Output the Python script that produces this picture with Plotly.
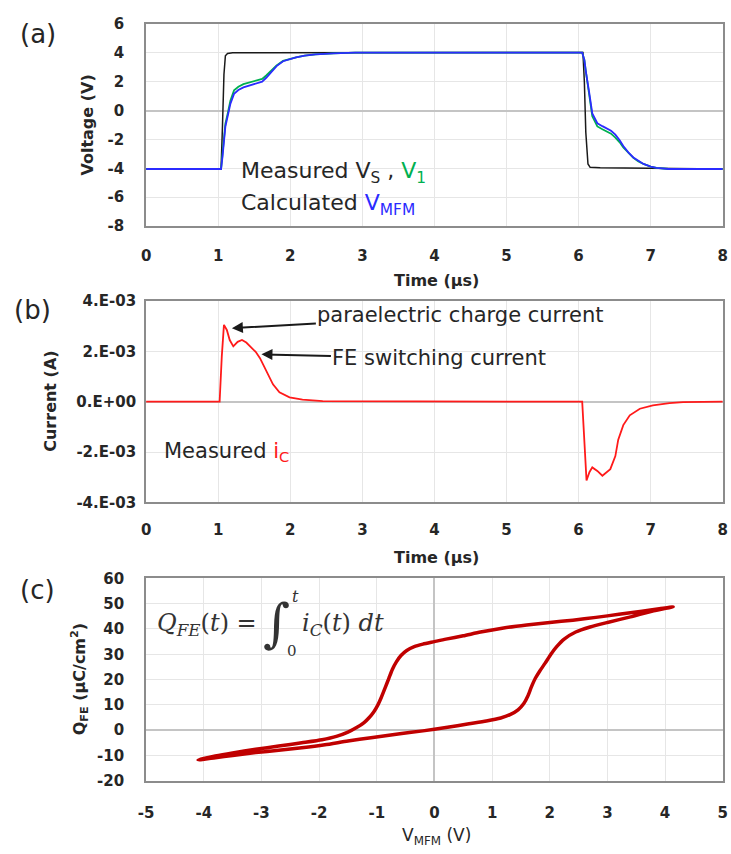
import plotly.graph_objects as go

W, H = 731, 854

# ---------------- data ----------------
# (a) voltages vs time (µs)
t_vs = [0, 1.04, 1.06, 1.08, 1.10, 1.13, 1.20, 3.0, 6.06, 6.08, 6.10, 6.13, 6.16, 6.30, 7.0, 8]
v_s = [-4.05, -4.05, -1.0, 2.5, 3.8, 3.95, 4.0, 4.02, 4.02, 2.0, -1.5, -3.7, -3.93, -3.97, -4.0, -4.05]

t_v = [0, 1.04, 1.06, 1.08, 1.10, 1.13, 1.17, 1.22, 1.28, 1.35, 1.45, 1.54, 1.61, 1.67, 1.74,
       1.81, 1.90, 2.0, 2.08, 2.2, 2.35, 2.6, 2.9, 6.05, 6.08, 6.10, 6.13, 6.15, 6.19, 6.26,
       6.33, 6.39, 6.45, 6.51, 6.57, 6.62, 6.69, 6.76, 6.83, 6.90, 7.0, 7.08, 7.25, 8]
v_mfm = [-4.05, -4.05, -3.2, -1.8, -1.1, -0.43, 0.48, 1.16, 1.42, 1.61, 1.76, 1.86, 2.0, 2.29, 2.7,
         3.08, 3.42, 3.6, 3.69, 3.8, 3.9, 3.97, 4.02, 4.02, 3.5, 2.74, 1.9, 1.16, -0.2, -0.88,
         -1.08, -1.22, -1.4, -1.67, -2.05, -2.46, -2.9, -3.25, -3.5, -3.7, -3.88, -3.97, -4.05, -4.05]
v_1 = [-4.05, -4.05, -3.0, -1.6, -0.9, -0.25, 0.7, 1.4, 1.65, 1.83, 1.98, 2.08, 2.2, 2.45, 2.8,
       3.12, 3.44, 3.6, 3.69, 3.8, 3.9, 3.97, 4.02, 4.02, 3.5, 2.74, 1.85, 1.0, -0.4, -1.1,
       -1.3, -1.45, -1.6, -1.87, -2.2, -2.56, -2.95, -3.28, -3.52, -3.7, -3.88, -3.97, -4.05, -4.05]

# (b) measured current (A) vs time (µs)
t_i = [0, 1.02, 1.05, 1.08, 1.12, 1.16, 1.21, 1.27, 1.33, 1.39, 1.45, 1.52, 1.58, 1.67, 1.76,
       1.85, 1.99, 2.17, 2.45, 6.05, 6.08, 6.11, 6.15, 6.19, 6.26, 6.33, 6.44, 6.51, 6.55, 6.62,
       6.71, 6.85, 7.03, 7.26, 7.45, 8]
i_c = [0, 0, 1.8e-3, 3.05e-3, 2.85e-3, 2.45e-3, 2.2e-3, 2.38e-3, 2.45e-3, 2.35e-3, 2.18e-3,
       1.98e-3, 1.73e-3, 1.21e-3, 0.69e-3, 0.37e-3, 0.17e-3, 0.08e-3, 0.02e-3, 0, -1.5e-3,
       -3.13e-3, -2.8e-3, -2.61e-3, -2.75e-3, -2.94e-3, -2.68e-3, -2.16e-3, -1.51e-3, -0.93e-3,
       -0.54e-3, -0.28e-3, -0.15e-3, -0.06e-3, -0.02e-3, 0]

# (c) hysteresis loop Q_FE (µC/cm²) vs V_MFM (V): upper branch (V falling) then lower branch
v_loop = [4.14, 3.9, 3.6, 3.2, 2.8, 2.4, 2.0, 1.6, 1.2, 0.8, 0.5, 0.2, 0.0, -0.2, -0.35, -0.48,
          -0.58, -0.66, -0.73, -0.79, -0.85, -0.92, -0.98, -1.05, -1.13, -1.22, -1.35, -1.5,
          -1.7, -1.95, -2.3, -2.7, -3.1, -3.5, -3.8, -4.0, -4.1,
          -3.8, -3.5, -3.1, -2.7, -2.3, -1.9, -1.5, -1.1, -0.6, -0.2, 0.2, 0.6, 0.9, 1.15, 1.32,
          1.45, 1.55, 1.62, 1.68, 1.75, 1.83, 1.92, 2.02, 2.12, 2.25, 2.45, 2.7, 3.0, 3.4, 3.8,
          4.14]
q_loop = [48.8, 48.0, 47.0, 45.8, 44.6, 43.5, 42.6, 41.6, 40.4, 38.8, 37.3, 36.0, 35.0, 34.0,
          33.0, 31.5, 29.5, 27.0, 24.0, 20.5, 17.0, 13.0, 10.0, 7.3, 5.0, 3.0, 1.0, -0.8, -2.5,
          -3.8, -5.0, -6.3, -7.6, -9.0, -10.2, -11.2, -11.8,
          -10.9, -10.0, -8.9, -8.0, -7.0, -5.8, -4.3, -3.0, -1.4, -0.3, 1.0, 2.5, 3.6, 4.8, 6.2,
          8.0, 10.5, 13.5, 17.0, 20.5, 23.5, 26.5, 30.0, 33.0, 36.0, 38.8, 40.8, 42.6, 44.8, 47.2,
          48.8]

# tick labels
time_ticks = [0, 1, 2, 3, 4, 5, 6, 7, 8]
time_labels = ["0", "1", "2", "3", "4", "5", "6", "7", "8"]
volt_ticks = [-8, -6, -4, -2, 0, 2, 4, 6]
volt_labels = ["-8", "-6", "-4", "-2", "0", "2", "4", "6"]
cur_ticks = [-4e-3, -2e-3, 0, 2e-3, 4e-3]
cur_labels = ["-4.E-03", "-2.E-03", "0.E+00", "2.E-03", "4.E-03"]
vmfm_ticks = [-5, -4, -3, -2, -1, 0, 1, 2, 3, 4, 5]
vmfm_labels = ["-5", "-4", "-3", "-2", "-1", "0", "1", "2", "3", "4", "5"]
q_ticks = [-20, -10, 0, 10, 20, 30, 40, 50, 60]
q_labels = ["-20", "-10", "0", "10", "20", "30", "40", "50", "60"]

# ---------------- layout helpers ----------------
def px(p):
    return p / W

def py(p):
    return 1 - p / H

XD = [px(140.6), px(727.7)]
DOM_A = [py(221.7), py(15.3)]
DOM_B = [py(504.0), py(298.3)]
DOM_C = [py(788.3), py(581.7)]

FONT = "DejaVu Sans"
TXT = "#262626"
tickfont = dict(family=FONT, size=15, color=TXT, weight="bold")

def axis(**kw):
    base = dict(showline=True, linecolor="#8c8c8c", linewidth=2, mirror=True,
                showgrid=True, gridcolor="#e6e6e6", gridwidth=1, ticks="",
                tickfont=tickfont, zeroline=False, fixedrange=True,
                ticklabeloverflow="allow", tickmode="array")
    base.update(kw)
    return base

fig = go.Figure()
fig.add_trace(go.Scatter(x=t_vs, y=v_s, mode="lines", line=dict(color="#1a1a1a", width=1.5),
                         xaxis="x", yaxis="y", name="Measured V_S"))
fig.add_trace(go.Scatter(x=t_v, y=v_1, mode="lines", line=dict(color="#00b050", width=1.8),
                         xaxis="x", yaxis="y", name="Measured V_1"))
fig.add_trace(go.Scatter(x=t_v, y=v_mfm, mode="lines", line=dict(color="#2b2bff", width=1.8),
                         xaxis="x", yaxis="y", name="Calculated V_MFM"))
fig.add_trace(go.Scatter(x=t_i, y=i_c, mode="lines", line=dict(color="#ff1a1a", width=1.8),
                         xaxis="x2", yaxis="y2", name="Measured i_C"))
fig.add_trace(go.Scatter(x=v_loop, y=q_loop, mode="lines",
                         line=dict(color="#c00000", width=3.5, shape="spline", smoothing=0.6),
                         xaxis="x3", yaxis="y3", name="Q_FE"))

fig.update_layout(
    width=W, height=H, margin=dict(l=0, r=0, t=0, b=0),
    paper_bgcolor="white", plot_bgcolor="white", showlegend=False,
    xaxis=axis(domain=XD, anchor="y", range=[0, 8], tickvals=time_ticks, ticktext=time_labels,
               ticklabelstandoff=15),
    yaxis=axis(domain=DOM_A, anchor="x", range=[-8, 6], tickvals=volt_ticks, ticktext=volt_labels,
               zeroline=True, zerolinecolor="#c4c4c4", zerolinewidth=1.5, ticklabelstandoff=17),
    xaxis2=axis(domain=XD, anchor="y2", range=[0, 8], tickvals=time_ticks, ticktext=time_labels,
                ticklabelstandoff=13),
    yaxis2=axis(domain=DOM_B, anchor="x2", range=[-4e-3, 4e-3], tickvals=cur_ticks,
                ticktext=cur_labels, zeroline=True, zerolinecolor="#c4c4c4", zerolinewidth=1.5,
                ticklabelstandoff=5),
    xaxis3=axis(domain=XD, anchor="y3", range=[-5, 5], tickvals=vmfm_ticks, ticktext=vmfm_labels,
                zeroline=True, zerolinecolor="#c4c4c4", zerolinewidth=1.5, ticklabelstandoff=17),
    yaxis3=axis(domain=DOM_C, anchor="x3", range=[-20, 60], tickvals=q_ticks, ticktext=q_labels,
                zeroline=True, zerolinecolor="#c4c4c4", zerolinewidth=1.5, ticklabelstandoff=17),
)

anns = []

def label(text, x, y, size, xanchor="center", bold=False, angle=0, family=FONT, color=TXT):
    anns.append(dict(text=text, x=px(x), y=py(y), xref="paper", yref="paper",
                     xanchor=xanchor, yanchor="middle", showarrow=False, textangle=angle,
                     font=dict(family=family, size=size, color=color,
                               weight="bold" if bold else "normal")))

# panel labels
label("(a)", 31, 26, 26)
label("(b)", 25, 307, 26)
label("(c)", 30, 593, 26)

# axis titles
label("Time (µs)", 436, 277, 16, bold=True)
label("Time (µs)", 436, 560, 16, bold=True)
label("V<sub>MFM</sub> (V)", 436, 845, 17)
label("Voltage (V)", 80, 118.5, 16, bold=True, angle=-90)
label("Current (A)", 43, 401, 16, bold=True, angle=-90)
label("Q<sub>FE</sub> (µC/cm<sup>2</sup>)", 73, 685, 16, bold=True, angle=-90)

# panel (a) text
label("Measured V<sub>S</sub> , <span style='color:#00b050'>V<sub>1</sub></span>", 235, 167, 22,
      xanchor="left")
label("Calculated <span style='color:#2b2bff'>V<sub>MFM</sub></span>", 235, 200, 22,
      xanchor="left")

# panel (b) text
label("Measured <span style='color:#ff1a1a'>i<sub>C</sub></span>", 157, 453, 21, xanchor="left")
anns.append(dict(text="paraelectric charge current", x=1.19, y=2.92e-3, xref="x2", yref="y2",
                 ax=229, ay=-13, showarrow=True, arrowhead=2, arrowsize=1.1, arrowwidth=2,
                 arrowcolor="#1a1a1a", font=dict(family=FONT, size=21, color=TXT)))
anns.append(dict(text="FE switching current", x=1.60, y=1.88e-3, xref="x2", yref="y2",
                 ax=178, ay=4, showarrow=True, arrowhead=2, arrowsize=1.1, arrowwidth=2,
                 arrowcolor="#1a1a1a", font=dict(family=FONT, size=21, color=TXT)))

# panel (c) formula
SERIF = "DejaVu Serif"
FC = "#333333"
label("<i>Q</i><sub><i>FE</i></sub>(<i>t</i>) =", 150, 629, 24, xanchor="left", family=SERIF,
      color=FC)
label("∫", 273, 627, 52, family=SERIF, color=FC)
label("<i>t</i>", 293, 600, 16, family=SERIF, color=FC)
label("0", 289, 656, 15, family=SERIF, color=FC)
label("<i>i</i><sub><i>C</i></sub>(<i>t</i>) <i>dt</i>", 297, 629, 24, xanchor="left",
      family=SERIF, color=FC)

fig.update_layout(annotations=anns)
fig.write_html("out.html")
